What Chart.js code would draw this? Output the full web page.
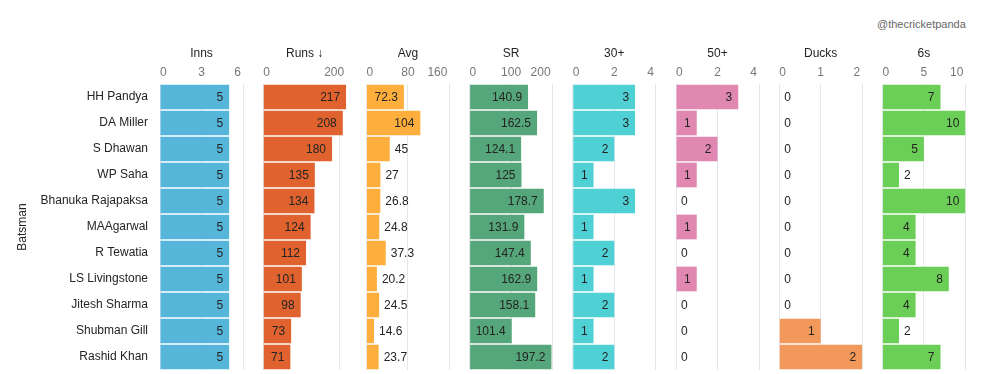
<!DOCTYPE html>
<html><head><meta charset="utf-8">
<script src="https://cdn.jsdelivr.net/npm/chart.js@4/dist/chart.umd.min.js"></script>
<style>
html,body{margin:0;padding:0;background:#fff;}
#wrap{position:relative;width:984px;height:374px;overflow:hidden;}
.panel{position:absolute;top:0;height:374px;}
#wm{position:absolute;left:877px;top:18px;font:11px "Liberation Sans",Arial,sans-serif;color:#666;white-space:nowrap;}
</style></head><body>
<div id="wrap"><div id="wm">@thecricketpanda</div></div>
<script>
const batsmen = ['HH Pandya','DA Miller','S Dhawan','WP Saha','Bhanuka Rajapaksa','MAAgarwal','R Tewatia','LS Livingstone','Jitesh Sharma','Shubman Gill','Rashid Khan'];
const inns     = [5,5,5,5,5,5,5,5,5,5,5];
const runs     = [217,208,180,135,134,124,112,101,98,73,71];
const avg      = [72.3,104,45,27,26.8,24.8,37.3,20.2,24.5,14.6,23.7];
const sr       = [140.9,162.5,124.1,125,178.7,131.9,147.4,162.9,158.1,101.4,197.2];
const thirties = [3,3,2,1,3,1,2,1,2,1,2];
const fifties  = [3,1,2,1,0,1,0,1,0,0,0];
const ducks    = [0,0,0,0,0,0,0,0,0,1,2];
const sixes    = [7,10,5,2,10,4,4,8,4,2,7];

const metricTitles = ['Inns','Runs ↓','Avg','SR','30+','50+','Ducks','6s'];
const metricValues = [inns, runs, avg, sr, thirties, fifties, ducks, sixes];
const axisMax = [6,217,160,200,4,4,2,10];
const tickValues = [[0,3,6],[0,200],[0,80,160],[0,100,200],[0,2,4],[0,2,4],[0,1,2],[0,5,10]];
const colors = ['#55b6da','#e0622f','#fdae3d','#55a67a','#4fd0d4','#e088b2','#f2985a','#6bcf57'];

const FONT = '"Liberation Sans", Arial, sans-serif';
Chart.defaults.font.family = FONT;
Chart.defaults.font.size = 12;
Chart.defaults.animation = false;

const valueLabels = {
  id: 'valueLabels',
  afterDatasetsDraw(chart) {
    const ctx = chart.ctx;
    const meta = chart.getDatasetMeta(0);
    const data = chart.data.datasets[0].data;
    ctx.save();
    ctx.font = '12px ' + FONT;
    ctx.fillStyle = '#252423';
    ctx.textBaseline = 'middle';
    meta.data.forEach((bar, i) => {
      const txt = String(data[i]);
      const w = ctx.measureText(txt).width;
      const bw = bar.x - bar.base;
      if (bw >= w + 10) { ctx.textAlign = 'right'; ctx.fillText(txt, bar.x - 6, bar.y + 1); }
      else { ctx.textAlign = 'left'; ctx.fillText(txt, bar.x + 5, bar.y + 1); }
    });
    ctx.restore();
  }
};

// x tick labels kept inside each panel (first one left-aligned, last one pulled in)
const tickLabels = {
  id: 'tickLabels',
  afterDraw(chart) {
    const s = chart.scales.x, ctx = chart.ctx, a = chart.chartArea;
    ctx.save();
    ctx.font = '12px ' + FONT;
    ctx.fillStyle = '#777';
    ctx.textBaseline = 'middle';
    ctx.textAlign = 'center';
    s.ticks.forEach(t => {
      const txt = String(t.value);
      const w = ctx.measureText(txt).width;
      let x = s.getPixelForValue(t.value);
      x = Math.max(a.left + w / 2, Math.min(a.right - 2 - w / 2, x));
      ctx.fillText(txt, x, a.top - 11.5);
    });
    ctx.restore();
  }
};

const wrap = document.getElementById('wrap');
const PANEL_W = 83, STEP = 103.2, FIRST = 160, TOP_PAD = 42, AREA_TOP = 84, PAD = 15, YW = 149, YLEFT = 11;

metricValues.forEach((vals, k) => {
  const start = FIRST + k * STEP;
  const isFirst = k === 0;
  const boxLeft = isFirst ? 0 : Math.round(start) - PAD;
  const padLeft = isFirst ? YLEFT : start - boxLeft;
  const width = isFirst ? Math.round(start + PANEL_W + PAD) : PANEL_W + 2 * PAD;
  const padRight = isFirst ? width - start - PANEL_W : width - padLeft - PANEL_W;
  const div = document.createElement('div');
  div.className = 'panel';
  div.style.left = boxLeft + 'px';
  div.style.width = width + 'px';
  const cv = document.createElement('canvas');
  div.appendChild(cv);
  wrap.appendChild(div);
  new Chart(cv, {
    type: 'bar',
    data: { labels: batsmen, datasets: [{ data: vals, backgroundColor: colors[k], borderWidth: 0,
      barPercentage: 1, categoryPercentage: 0.95 }] },
    options: {
      indexAxis: 'y',
      responsive: true,
      maintainAspectRatio: false,
      devicePixelRatio: 1,
      layout: { padding: { left: padLeft, right: padRight, top: TOP_PAD, bottom: 4 } },
      plugins: { legend: { display: false }, tooltip: { enabled: false } },
      scales: {
        x: {
          position: 'top', min: 0, max: axisMax[k],
          afterBuildTicks: s => { s.ticks = tickValues[k].map(v => ({ value: v })); },
          afterFit: s => { s.height = AREA_TOP - TOP_PAD; s.paddingLeft = 0; s.paddingRight = 0; },
          grid: { color: '#e4e8ee', drawTicks: false, lineWidth: 1 },
          border: { display: false },
          ticks: { display: false },
          title: { display: true, text: metricTitles[k], color: '#252423', font: { size: 12 }, padding: { top: 4, bottom: 4 } }
        },
        y: {
          display: isFirst,
          afterFit: s => { if (isFirst) s.width = YW; s.paddingTop = 0; s.paddingBottom = 0; },
          grid: { display: false, drawTicks: false },
          border: { display: false },
          ticks: { color: '#252423', padding: 12, font: { size: 12 } },
          title: { display: true, text: 'Batsman', color: '#252423', font: { size: 12 }, padding: { top: 4, bottom: 4 } }
        }
      }
    },
    plugins: [valueLabels, tickLabels]
  });
});
</script>
</body></html>
